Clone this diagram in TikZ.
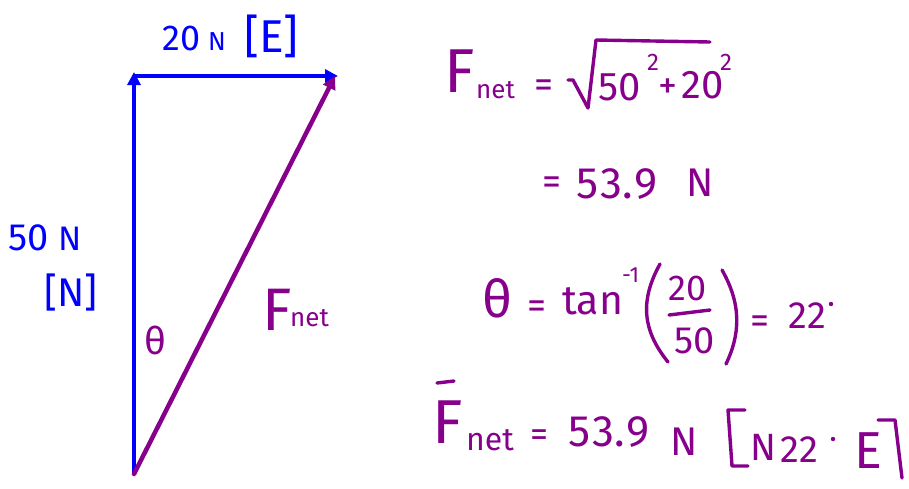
\documentclass[tikz,border=0pt]{standalone}
\usepackage{fontspec}
\setmainfont{Fira Sans}
\usetikzlibrary{arrows.meta}
\definecolor{hb}{RGB}{0,0,255}
\definecolor{hp}{RGB}{135,0,140}
\newcommand{\fsz}[1]{\fontsize{#1}{#1}\selectfont}
\begin{document}
\begin{tikzpicture}[x=1pt,y=-1pt,
  vec/.style={line width=4.5pt,-{Triangle[length=13pt,width=13pt]}},
  bt/.style={text=hb,inner sep=0pt},
  pt/.style={text=hp,inner sep=0pt},
  pl/.style={draw=hp,line width=3.4pt,line cap=round,line join=round}]
\useasboundingbox (0,0) rectangle (909,488);
\fill[white] (0,0) rectangle (909,488);
% triangle
\coordinate (O) at (134,474);
\coordinate (T) at (134,72);
\coordinate (C) at (134,76);
\coordinate (R) at (338,76);
\coordinate (P) at (335,76);
\draw[vec,hb] (O) -- (T);
\draw[vec,hb] (C) -- (R);
\draw[vec,hp,line cap=round] (O) -- (P);
% blue labels
\node[bt,anchor=base west,font=\fsz{36}] (l20) at (162,50) {20};
\node[bt,anchor=base west,font=\fsz{26}] (lN) at (208,50) {N};
\node[bt,anchor=base west,font=\fsz{46}] (lE) at (244,52) {[E]};
\node[bt,anchor=base west,font=\fsz{38}] (l50) at (8,250) {50};
\node[bt,anchor=base west,font=\fsz{34}] (l50N) at (58,250) {N};
\node[bt,anchor=base west,font=\fsz{40}] (lNN) at (44,306) {[N]};
% theta and Fnet on triangle
\node[pt,anchor=base west,font=\fsz{38}] (th) at (144,354) {θ};
\node[pt,anchor=base west,font=\fsz{60}] (fF) at (262,330) {F};
\node[pt,anchor=base west,font=\fsz{26}] (fn) at (290,326) {net};
% formula 1
\node[pt,anchor=base west,font=\fsz{62}] (a1) at (444,92) {F};
\node[pt,anchor=base west,font=\fsz{26}] (a2) at (476,98) {net};
\node[pt,anchor=base west,font=\fsz{38}] (a3) at (534,97) {=};
\draw[pl] (568,80) -- (573,80) -- (588,108) -- (596,40) -- (710,42);
\node[pt,anchor=base west,font=\fsz{40}] (a4) at (598,100) {50};
\node[pt,anchor=base west,font=\fsz{24}] (a5) at (647,70) {2};
\node[pt,anchor=base west,font=\fsz{38}] (a6) at (658,98) {+};
\node[pt,anchor=base west,font=\fsz{40}] (a7) at (681,98) {20};
\node[pt,anchor=base west,font=\fsz{24}] (a8) at (720,70) {2};
% formula 2
\node[pt,anchor=base west,font=\fsz{38}] (b1) at (542,194) {=};
\node[pt,anchor=base west,font=\fsz{44}] (b2) at (576,198) {5\hspace{2pt}3.\hspace{2pt}9};
\node[pt,anchor=base west,font=\fsz{40}] (b3) at (686,196) {N};
% formula 3
\node[pt,anchor=base west,font=\fsz{52}] (c1) at (482,317) {θ};
\node[pt,anchor=base west,font=\fsz{38}] (c2) at (527,318) {=};
\node[pt,anchor=base west,font=\fsz{41}] (c3) at (562,314) {tan};
\node[pt,anchor=base west,font=\fsz{22}] (c4) at (622,282) {-1};
\draw[pl] (660,264) .. controls (640,300) and (642,330) .. (668,362);
\node[pt,anchor=base west,font=\fsz{36}] (c5) at (668,300) {20};
\draw[pl] (669,315) -- (710,310);
\node[pt,anchor=base west,font=\fsz{38}] (c6) at (674,353) {50};
\draw[pl] (722,270) .. controls (742,305) and (740,335) .. (726,364);
\node[pt,anchor=base west,font=\fsz{38}] (c7) at (750,333) {=};
\node[pt,anchor=base west,font=\fsz{38}] (c8) at (788,328) {22};
\fill[hp] (831,304) circle (2.2pt);
% formula 4
\draw[pl] (437,383) -- (454,381);
\node[pt,anchor=base west,font=\fsz{62}] (d1) at (432,443) {F};
\node[pt,anchor=base west,font=\fsz{32}] (d2) at (466,450) {net};
\node[pt,anchor=base west,font=\fsz{36}] (d3) at (530,446) {=};
\node[pt,anchor=base west,font=\fsz{44}] (d4) at (568,446) {5\hspace{2pt}3.\hspace{2pt}9};
\node[pt,anchor=base west,font=\fsz{40}] (d5) at (670,455) {N};
\draw[pl] (745,410) -- (728,410) -- (732,466) -- (748,466);
\node[pt,anchor=base west,font=\fsz{38}] (d6) at (750,460) {N};
\node[pt,anchor=base west,font=\fsz{38}] (d7) at (780,462) {22};
\fill[hp] (833,439) circle (2.2pt);
\node[pt,anchor=base west,font=\fsz{52}] (d8) at (854,468) {E};
\draw[pl] (878,420) -- (895,420) -- (902,478);
\end{tikzpicture}
\end{document}
